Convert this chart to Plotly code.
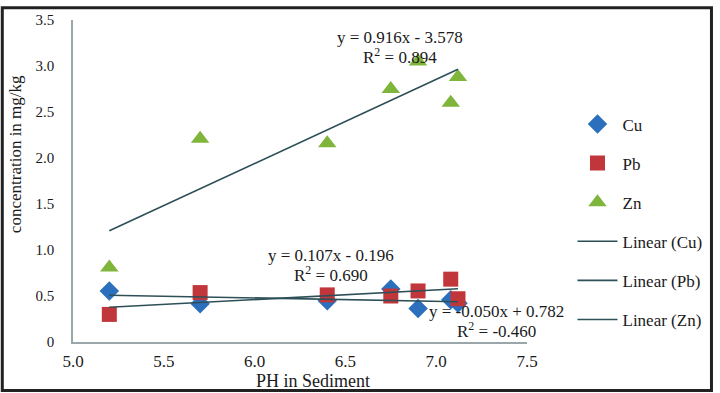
import numpy as np
import plotly.graph_objects as go

# ---- data ----
ph = [5.2, 5.7, 6.4, 6.75, 6.9, 7.08, 7.12]
cu = [0.555, 0.416, 0.448, 0.576, 0.363, 0.46, 0.42]
pb = [0.30, 0.537, 0.512, 0.50, 0.555, 0.683, 0.47]
zn = [0.81, 2.21, 2.16, 2.75, 3.05, 2.60, 2.88]

series_names = ["Cu", "Pb", "Zn"]
eq_text = ["y = -0.050x + 0.782", "y = 0.107x - 0.196", "y = 0.916x - 3.578"]
r2_text = ["R<sup>2</sup> = -0.460", "R<sup>2</sup> = 0.690", "R<sup>2</sup> = 0.894"]

y_tickvals = [0, 0.5, 1.0, 1.5, 2.0, 2.5, 3.0, 3.5]
y_ticktext = ["0", "0.5", "1.0", "1.5", "2.0", "2.5", "3.0", "3.5"]
x_tickvals = [5.0, 5.5, 6.0, 6.5, 7.0, 7.5]

# ---- styles ----
FONT = "Liberation Serif"
TXT = "#1a1a1a"
colors = {"Cu": "#2b6fbd", "Pb": "#c0363a", "Zn": "#7fb53a"}
symbols = {"Cu": "diamond", "Pb": "square", "Zn": "triangle-up"}
sizes = {"Cu": 15, "Pb": 15, "Zn": 16}
LINE_COLOR = "#2d4f57"

W, H = 720, 393
L, R, T, B = 73, 188, 14, 51
PW, PH = W - L - R, H - T - B


def px2paper_x(px):
    return (px - L) / PW


def px2paper_y(py):
    return (H - B - py) / PH


fig = go.Figure()
vals = {"Cu": cu, "Pb": pb, "Zn": zn}
for i, name in enumerate(series_names):
    fig.add_trace(go.Scatter(
        x=ph, y=vals[name], mode="markers", name=name,
        legendgroup="g%d" % i,
        marker=dict(symbol=symbols[name], size=sizes[name], color=colors[name],
                    line=dict(width=0)),
    ))

xs = np.array(ph)
xline = [xs.min(), xs.max()]
for i, name in enumerate(series_names):
    k, b = np.polyfit(xs, np.array(vals[name]), 1)
    fig.add_trace(go.Scatter(
        x=xline, y=[k * v + b for v in xline], mode="lines",
        name="Linear (%s)" % name, legendgroup="g%d" % (i + 3),
        line=dict(color=LINE_COLOR, width=1.6),
    ))

# equation annotations (positions in data coords)
eq_pos = {"Zn": (6.80, 3.31, 3.11), "Pb": (6.42, 0.94, 0.735), "Cu": (7.33, 0.33, 0.128)}
for i, name in enumerate(series_names):
    xp, ye, yr = eq_pos[name]
    fig.add_annotation(x=xp, y=ye, text=eq_text[i], showarrow=False,
                       xanchor="center", yanchor="middle",
                       font=dict(family=FONT, size=17, color=TXT))
    fig.add_annotation(x=xp, y=yr, text=r2_text[i], showarrow=False,
                       xanchor="center", yanchor="middle",
                       font=dict(family=FONT, size=17, color=TXT))

# axis titles
fig.add_annotation(xref="paper", yref="paper", x=px2paper_x(15), y=px2paper_y(151),
                   xanchor="center", yanchor="middle",
                   text="concentration in mg/kg", textangle=-90, showarrow=False,
                   font=dict(family=FONT, size=17, color=TXT))
fig.add_annotation(xref="paper", yref="paper", x=px2paper_x(316), y=px2paper_y(382),
                   xanchor="center", yanchor="middle",
                   text="PH in Sediment", showarrow=False,
                   font=dict(family=FONT, size=18, color=TXT))

# outer frame
fig.add_shape(type="rect", xref="paper", yref="paper",
              x0=px2paper_x(1.5), x1=px2paper_x(W - 1.5),
              y0=px2paper_y(H - 1.5), y1=px2paper_y(1.5),
              line=dict(color="#222222", width=3), layer="above")

fig.update_layout(
    width=W, height=H,
    margin=dict(l=L, r=R, t=T, b=B),
    paper_bgcolor="white", plot_bgcolor="white",
    font=dict(family=FONT, size=15, color=TXT),
    showlegend=True,
    legend=dict(x=px2paper_x(578), y=px2paper_y(102), xanchor="left", yanchor="top",
                tracegroupgap=14, itemwidth=40,
                font=dict(family=FONT, size=17, color=TXT),
                bgcolor="rgba(0,0,0,0)"),
    xaxis=dict(range=[5.0, 7.5], tickvals=x_tickvals, tickformat=".1f",
               showgrid=False, zeroline=False, showline=True, linecolor="#9aa6aa",
               linewidth=1.5, ticks="", ticklabelstandoff=3,
               tickfont=dict(family=FONT, size=17, color=TXT)),
    yaxis=dict(range=[0, 3.5], tickvals=y_tickvals, ticktext=y_ticktext,
               showgrid=False, zeroline=False, showline=True, linecolor="#9aa6aa",
               linewidth=1.5, ticks="", ticklabelstandoff=14,
               tickfont=dict(family=FONT, size=15, color=TXT)),
)

fig.write_html("out.html", config={"displayModeBar": False},
               post_script="document.body.style.margin='0';document.body.style.overflow='hidden';")
